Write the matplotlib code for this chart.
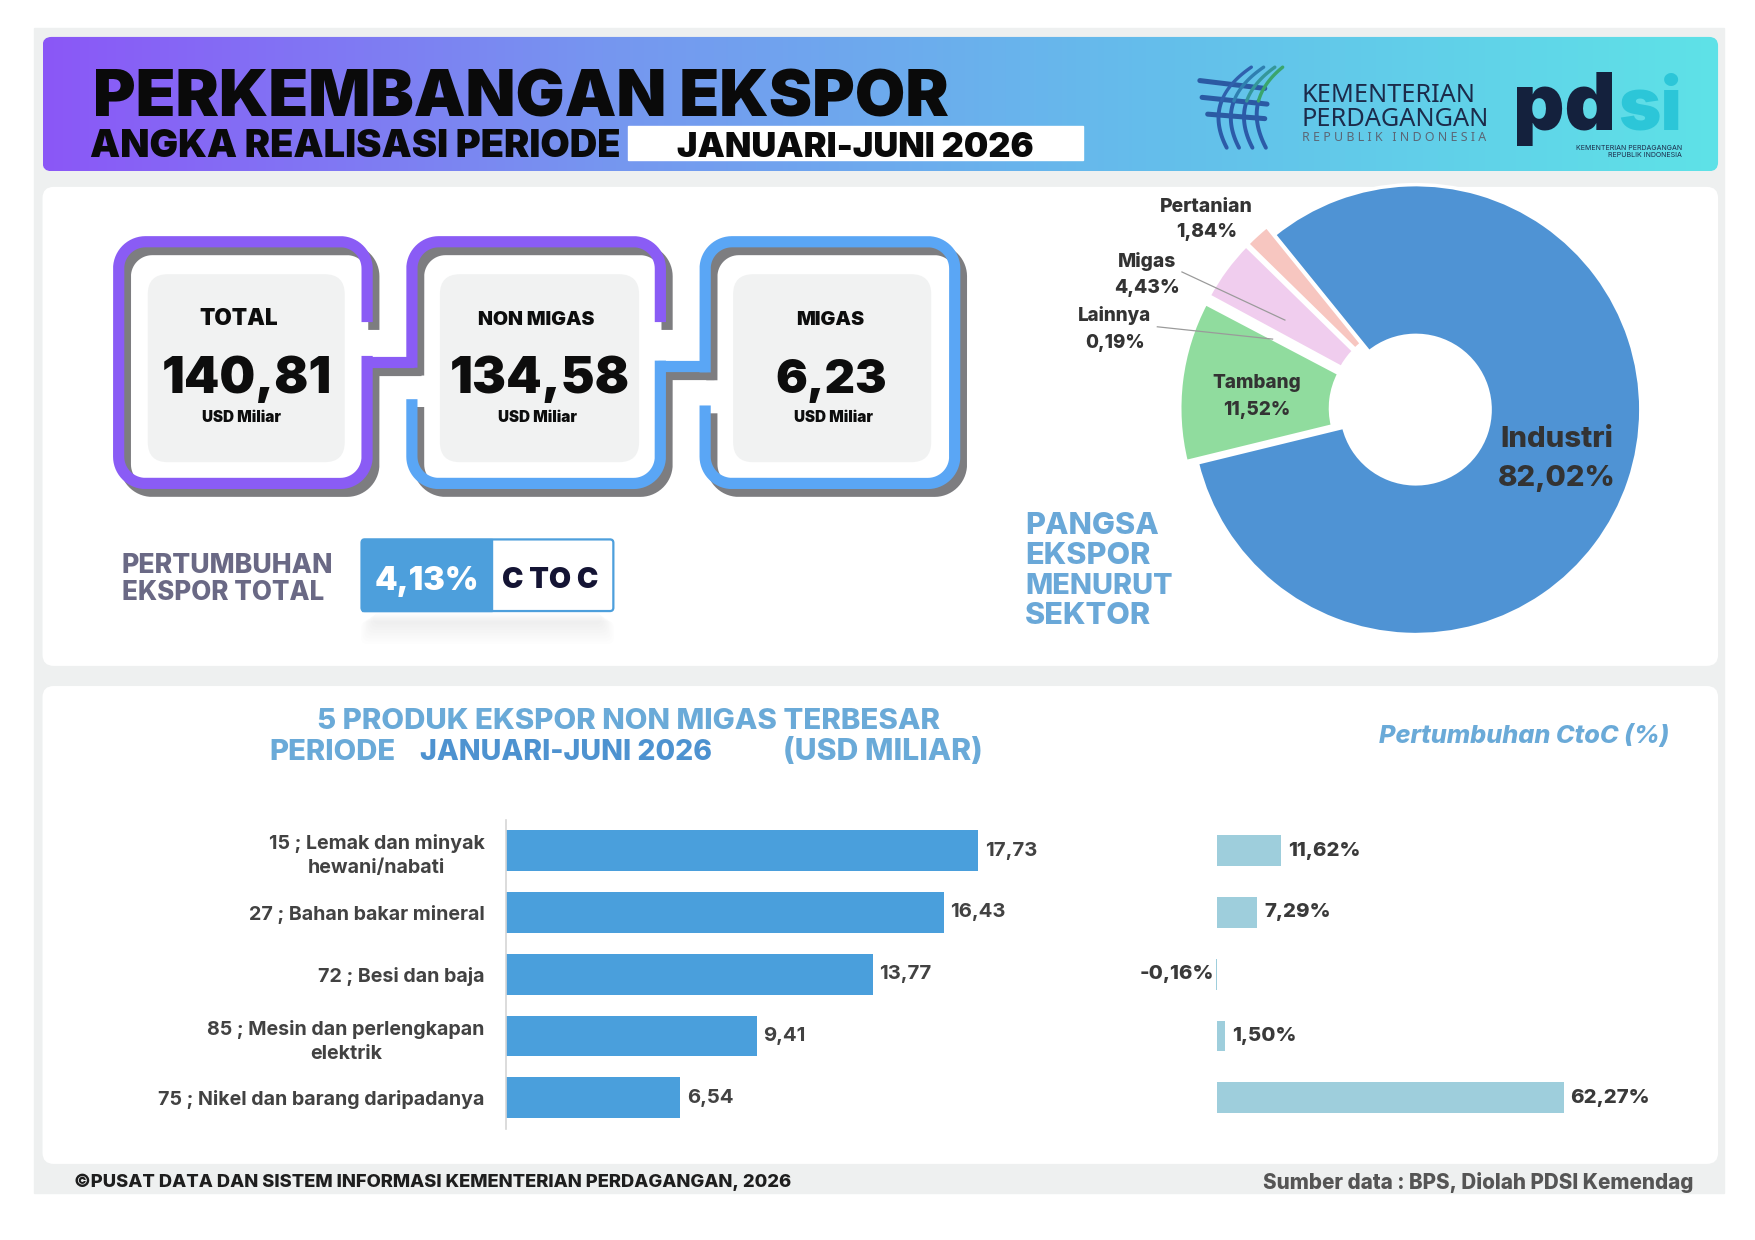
import numpy as np
import matplotlib
matplotlib.use('Agg')
import matplotlib.pyplot as plt
from matplotlib.patches import FancyBboxPatch, Rectangle

# ---------------- data ----------------
card_titles = ['TOTAL', 'NON MIGAS', 'MIGAS']
card_values = [140.81, 134.58, 6.23]
total_growth = 4.13
period = 'JANUARI-JUNI 2026'

sectors = ['Industri', 'Tambang', 'Lainnya', 'Migas', 'Pertanian']
sector_share = [82.02, 11.52, 0.19, 4.43, 1.84]
sector_colors = ['#4f93d4', '#90dc9e', '#9a5cc6', '#f0cdee', '#f7c6c0']

products = ['15 ; Lemak dan minyak\nhewani/nabati',
            '27 ; Bahan bakar mineral',
            '72 ; Besi dan baja',
            '85 ; Mesin dan perlengkapan\nelektrik',
            '75 ; Nikel dan barang daripadanya']
export_value = [17.73, 16.43, 13.77, 9.41, 6.54]
growth_ctoc = [11.62, 7.29, -0.16, 1.50, 62.27]


def fmt(v, d=2):
    return f"{v:.{d}f}".replace('.', ',')


# ---------------- canvas ----------------
W, H = 1568, 1108
S = 1568 / 1755          # display px per real px
PT = 0.72 / S            # points per display px
FAM = ['Inter', 'DejaVu Sans']
NS = ['Noto Sans', 'DejaVu Sans']

fig = plt.figure(figsize=(17.55, 12.4), dpi=100)
fig.patch.set_facecolor('white')


def overlay(z):
    a = fig.add_axes([0, 0, 1, 1])
    a.set_xlim(0, W)
    a.set_ylim(H, 0)
    a.axis('off')
    a.set_zorder(z)
    a.patch.set_alpha(0)
    return a


bg = overlay(0)
fg = overlay(10)
R = fig.canvas.get_renderer()


def fit(t, w):
    bb = t.get_window_extent(renderer=R)
    t.set_fontsize(t.get_fontsize() * (w / S) / bb.width)
    return t


def txt(x, y, s, w=None, size=12, ax=None, **kw):
    kw.setdefault('family', FAM)
    kw.setdefault('va', 'baseline')
    a = ax or fg
    t = a.text(x, y, s, fontsize=size, **kw)
    if w:
        fit(t, w)
    return t


def fr(x0, y0, x1, y1):
    return [x0 / W, 1 - y1 / H, (x1 - x0) / W, (y1 - y0) / H]


def rbox(x0, y0, x1, y1, r, ax=None, **kw):
    p = FancyBboxPatch((x0, y0), x1 - x0, y1 - y0,
                       boxstyle=f'round,pad=0,rounding_size={r}', **kw)
    (ax or bg).add_patch(p)
    return p


# page background
bg.add_patch(Rectangle((30, 25), 1510, 1041, color='#eef0f0', zorder=0))

# ---------------- header ----------------
hdr = rbox(38, 33, 1535, 153, 8, facecolor='none', edgecolor='none', zorder=1)
stops = np.array([[139, 87, 247], [118, 150, 240], [100, 190, 235], [94, 226, 231]]) / 255
xs = np.linspace(0, 1, 400)
grad = np.stack([np.interp(xs, np.linspace(0, 1, 4), stops[:, c]) for c in range(3)], axis=-1)[None]
im = bg.imshow(grad, extent=(38, 1535, 153, 33), aspect='auto', zorder=1, interpolation='bicubic')
im.set_clip_path(hdr)
bg.set_xlim(0, W)
bg.set_ylim(H, 0)

txt(83, 104, 'PERKEMBANGAN EKSPOR', w=765, size=46, weight='black', color='#0a0a0a')
txt(80, 140, 'ANGKA REALISASI PERIODE', w=475, size=30, weight='black', color='#0a0a0a')
bg.add_patch(Rectangle((561, 113), 407, 30, color='white', zorder=2))
txt(764, 140, period, w=319, size=25, weight='black', color='#0a0a0a', ha='center')

# Kemendag logo (stylised)
for (xa, ya, xb, yb) in [(1072, 72, 1130, 79), (1074, 87, 1132, 93), (1079, 102, 1130, 106)]:
    bg.plot([xa, xb], [ya, yb], color='#2b5aa3', lw=4.5 * PT, solid_capstyle='round', zorder=3)
tt = np.linspace(0, 1, 40)
for bx, tx, c in [(1096, 1118, '#2f60ad'), (1107, 1129, '#2f7fb0'), (1119, 1139, '#35979a'), (1131, 1146, '#3aa56d')]:
    cx = bx - 22
    xs_ = (1 - tt) ** 2 * bx + 2 * (1 - tt) * tt * cx + tt ** 2 * tx
    ys_ = (1 - tt) ** 2 * 132 + 2 * (1 - tt) * tt * 90 + tt ** 2 * 60
    bg.plot(xs_[:22], ys_[:22], color='#2c5ba8', lw=3.5 * PT, solid_capstyle='round', zorder=3)
    bg.plot(xs_[21:], ys_[21:], color=c, lw=3 * PT, solid_capstyle='round', zorder=3)

txt(1163, 113, 'KEMENTERIAN\nPERDAGANGAN', w=167, size=18, weight='light', family=NS,
    color='#1c2b4a', linespacing=0.95)
txt(1163, 126, 'R E P U B L I K   I N D O N E S I A', w=165, size=9, family=NS, color='#5b6675')
txt(1352, 116, 'pd', w=92, size=60, weight='black', color='#14213d')
txt(1446, 116, 'si', w=57, size=60, weight='black', color='#2cc6d8')
txt(1503, 140, 'KEMENTERIAN PERDAGANGAN\nREPUBLIK INDONESIA', w=96, size=4, color='#1c2b4a',
    ha='right', multialignment='right', linespacing=1.1)

# ---------------- panels ----------------
rbox(38, 167, 1535, 595, 10, facecolor='white', edgecolor='none', zorder=1)
rbox(38, 613, 1535, 1040, 10, facecolor='white', edgecolor='none', zorder=1)

# ---------------- cards ----------------
PURPLE, BLUE, GREY = '#8a5cf5', '#5aa6f5', '#7d7d80'
LW = 10 * PT


def perim(x0, y0, x1, y1, r, n=80):
    segs = []
    def arc(cx, cy, a0, a1):
        a = np.linspace(a0, a1, n)
        return np.c_[cx + r * np.cos(a), cy + r * np.sin(a)]
    def line(p, q):
        t = np.linspace(0, 1, 3 * n)[:, None]
        return np.array(p) * (1 - t) + np.array(q) * t
    segs.append(arc(x0 + r, y0 + r, np.pi, 1.5 * np.pi))
    segs.append(line((x0 + r, y0), (x1 - r, y0)))
    segs.append(arc(x1 - r, y0 + r, 1.5 * np.pi, 2 * np.pi))
    segs.append(line((x1, y0 + r), (x1, y1 - r)))
    segs.append(arc(x1 - r, y1 - r, 0, 0.5 * np.pi))
    segs.append(line((x1 - r, y1), (x0 + r, y1)))
    segs.append(arc(x0 + r, y1 - r, 0.5 * np.pi, np.pi))
    segs.append(line((x0, y1 - r), (x0, y0 + r)))
    return np.vstack(segs)


def draw_card(x0, y0, x1, y1, labeler):
    P = perim(x0, y0, x1, y1, 24)
    lab = np.array([labeler(px, py, (x0 + x1) / 2) for px, py in P])
    ch = np.where(lab != np.roll(lab, 1))[0]
    if len(ch):
        P = np.roll(P, -ch[0], axis=0)
        lab = np.roll(lab, -ch[0])
    cuts = list(np.where(lab[1:] != lab[:-1])[0] + 1) + [len(lab)]
    s = 0
    for e in cuts:
        if lab[s] != 0:
            seg = P[s:min(e + 1, len(P))]
            col = PURPLE if lab[s] == 1 else BLUE
            bg.plot(seg[:, 0] + 6, seg[:, 1] + 7, color=GREY, lw=LW, solid_capstyle='butt', zorder=2)
            bg.plot(seg[:, 0], seg[:, 1], color=col, lw=LW, solid_capstyle='butt', zorder=3)
        s = e


def lab1(x, y, xc):
    if x > xc and 288 < y < 318:
        return 0
    return 1


def lab2(x, y, xc):
    if x < xc and 329 < y < 357:
        return 0
    if x > xc and 288 < y < 322:
        return 0
    if x < xc:
        return 1 if y < 330 else 2
    return 1 if y < 305 else 2


def lab3(x, y, xc):
    if x < xc and 333 < y < 362:
        return 0
    return 2


for xa, xb, y, col in [(326, 370, 323.5, PURPLE), (588, 632, 327, BLUE)]:
    bg.plot([xa + 6, xb + 6], [y + 7, y + 7], color=GREY, lw=LW, solid_capstyle='butt', zorder=2)
    bg.plot([xa, xb], [y, y], color=col, lw=LW, solid_capstyle='butt', zorder=3)

card_x = [(106, 328), (368, 590), (630, 853)]
for (xa, xb), lb in zip(card_x, [lab1, lab2, lab3]):
    draw_card(xa, 216, xb, 432, lb)

inner = [(132, 308), (393, 571), (655, 832)]
title_cx = [213, 479, 742]
val_cx = [221, 482, 743]
usd_cx = [216, 480, 745]
title_w = [70, 104, 61]
val_w = [152, 161, 100]
for k, ((xa, xb), t, v) in enumerate(zip(inner, card_titles, card_values)):
    rbox(xa, 245, xb, 413, 18, facecolor='#f1f2f2', edgecolor='none', zorder=2)
    txt(title_cx[k], 290, t, w=title_w[k], size=17, weight='black', color='#0d0d0d', ha='center')
    txt(val_cx[k], 351, fmt(v), w=val_w[k], size=44, weight='black', color='#0d0d0d', ha='center')
    txt(usd_cx[k], 377, 'USD Miliar', w=71, size=11, weight='black', color='#0d0d0d', ha='center')

# ---------------- total growth ----------------
txt(109, 512, 'PERTUMBUHAN', w=189, size=22, weight='heavy', color='#6a6985')
txt(109, 536, 'EKSPOR TOTAL', w=181, size=22, weight='heavy', color='#6a6985')
for k in range(8):
    rbox(333 - k * 1.5, 548 + k * 1.0, 538 + k * 1.5, 558 + k * 2.5, 6,
         facecolor='#aab0b6', edgecolor='none', alpha=0.018, zorder=2)
rbox(323, 482, 548, 546, 3, facecolor='white', edgecolor='#4d9fdc', lw=2 * PT, zorder=3)
bg.add_patch(Rectangle((323, 482), 117, 64, color='#4d9fdc', zorder=3))
txt(381, 527, fmt(total_growth) + '%', w=93, size=30, weight='black', color='white', ha='center')
txt(492, 525, 'C TO C', w=86, size=22, weight='black', color='#141434', ha='center')

# ---------------- pie ----------------
PCX, PCY, PR = 1265, 366, 201
axp = fig.add_axes(fr(PCX - 1.2 * PR, PCY - 1.2 * PR, PCX + 1.2 * PR, PCY + 1.2 * PR))
axp.set_zorder(5)
axp.patch.set_alpha(0)
axp.pie(sector_share, colors=sector_colors, startangle=129, counterclock=False,
        explode=[0, 0.05, 0.05, 0.05, 0.05], radius=1,
        wedgeprops=dict(width=0.67, edgecolor='white', linewidth=2.5))
axp.set_xlim(-1.2, 1.2)
axp.set_ylim(-1.2, 1.2)
axp.set_aspect('equal')
axp.axis('off')

# leader lines for small slices
fg.plot([1056, 1148], [243, 286], color='#9a9a9a', lw=1.1 * PT)
fg.plot([1034, 1137], [292, 303], color='#9a9a9a', lw=1.1 * PT)

PIE_TXT = '#333333'
labels_pos = {'Industri': (1391, 399, 434, 101, 24),
              'Tambang': (1123, 347, 371, 79, 15),
              'Pertanian': (1078, 189, 212, 83, 14),
              'Migas': (1025, 239, 262, 52, 14),
              'Lainnya': (996, 287, 311, 66, 14)}
for name, share in zip(sectors, sector_share):
    x, y1, y2, w, sz = labels_pos[name]
    t1 = txt(x, y1, name, w=w, size=sz, weight='heavy', color=PIE_TXT, ha='center')
    txt(x, y2, fmt(share) + '%', size=t1.get_fontsize(), weight='heavy', color=PIE_TXT, ha='center')

PB = '#6aa8d8'
txt(916, 477, 'PANGSA', size=22, weight='heavy', color=PB)
txt(916, 504, 'EKSPOR', size=22, weight='heavy', color=PB)
txt(916, 531, 'MENURUT', w=132, size=22, weight='heavy', color=PB)
txt(916, 558, 'SEKTOR', size=22, weight='heavy', color=PB)

# ---------------- bottom title ----------------
TB = '#6aaad8'
txt(283, 651, '5 PRODUK EKSPOR NON MIGAS TERBESAR', w=557, size=24, weight='heavy', color=TB)
txt(241, 679, 'PERIODE', w=113, size=24, weight='heavy', color=TB)
txt(375, 679, period, w=261, size=24, weight='heavy', color='#4d92d0')
txt(700, 679, '(USD MILIAR)', w=178, size=24, weight='heavy', color=TB)
txt(1232, 664, 'Pertumbuhan CtoC (%)', w=260, size=20, weight='heavy', style='italic', color=TB)

# ---------------- bars ----------------
probe = fg.text(0, 0, '27 ; Bahan bakar mineral', fontsize=14, family=FAM, weight='bold')
fit(probe, 212)
LBL_FS = probe.get_fontsize()
probe.remove()

PXU = 23.8
axl = fig.add_axes(fr(452, 732.4, 452 + PXU * 20, 1008.6))
axl.set_zorder(5)
yy = np.arange(len(products))
axl.barh(yy, export_value, height=0.66, color='#4a9fdc')
axl.set_xlim(0, 20)
axl.set_ylim(len(products) - 0.5, -0.5)
axl.set_yticks(yy)
axl.set_yticklabels(products, family=FAM, weight='bold', fontsize=LBL_FS, color='#424242',
                    ha='right', multialignment='center', linespacing=1.45)
axl.tick_params(axis='y', length=0, pad=19 * PT)
axl.set_xticks([])
for sp in ['top', 'right', 'bottom']:
    axl.spines[sp].set_visible(False)
axl.spines['left'].set_color('#d6d6d6')
axl.spines['left'].set_linewidth(1.2)
axl.patch.set_alpha(0)
for i, v in enumerate(export_value):
    axl.text(v + 6 / PXU, i, fmt(v), va='center', ha='left', family=FAM, weight='bold',
             fontsize=LBL_FS + 0.5, color='#424242')

GXU = 4.98
axr = fig.add_axes(fr(1087 - 5 * GXU, 732.4, 1087 + 70 * GXU, 1008.6))
axr.set_zorder(5)
axr.barh(yy, growth_ctoc, height=0.5, color='#9ecedc')
axr.set_xlim(-5, 70)
axr.set_ylim(len(products) - 0.5, -0.5)
axr.axis('off')
for i, v in enumerate(growth_ctoc):
    if v >= 0:
        axr.text(v + 6 / GXU, i, fmt(v) + '%', va='center', ha='left', family=FAM, weight='heavy',
                 fontsize=LBL_FS + 0.5, color='#3a3a3a')
    else:
        axr.text(v - 1.5 / GXU, i, fmt(v) + '%', va='center', ha='right', family=FAM, weight='heavy',
                 fontsize=LBL_FS + 0.5, color='#3a3a3a')

# ---------------- footer ----------------
txt(66, 1061, '\u00a9PUSAT DATA DAN SISTEM INFORMASI KEMENTERIAN PERDAGANGAN, 2026', w=641, size=13,
    weight='heavy', color='#1e1e1e')
txt(1513, 1062, 'Sumber data : BPS, Diolah PDSI Kemendag', w=385, size=13, weight='heavy',
    color='#555555', ha='right')

fig.savefig('out.png', dpi=100, facecolor='white')
